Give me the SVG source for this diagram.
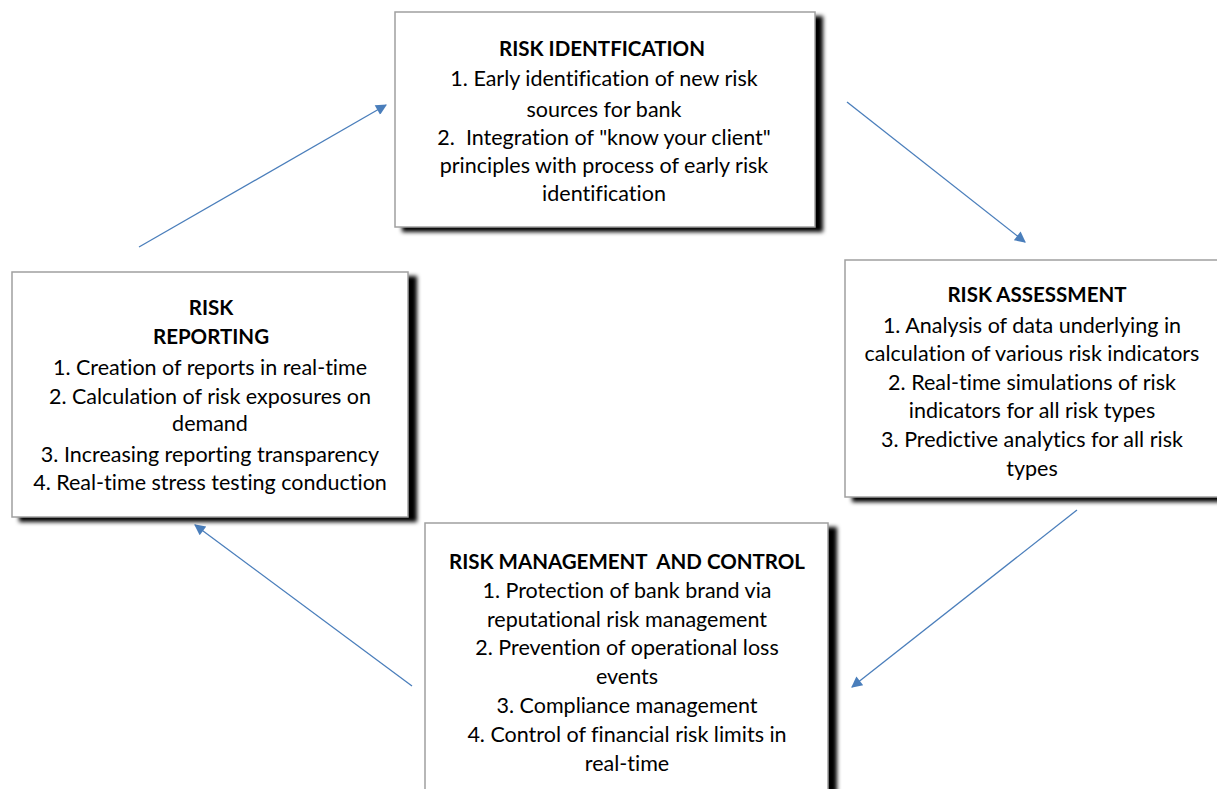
<svg xmlns="http://www.w3.org/2000/svg" width="1217" height="789" viewBox="0 0 1217 789">
<style>
.box{fill:#fff;stroke:#a0a0a0;stroke-width:1.5}
.sh{fill:#000;filter:url(#blur)}
.t{font-family:Lato,"Liberation Sans",sans-serif;font-size:21.5px;fill:#000;text-anchor:middle;font-variant-ligatures:none;white-space:pre}
.b{font-weight:bold;font-size:20.5px}
.c{stroke:#4a7ebb;stroke-width:1.3;fill:none;marker-end:url(#ah)}
</style>
<defs>
<filter id="blur" x="-10%" y="-10%" width="120%" height="120%"><feGaussianBlur stdDeviation="2"/></filter>
<marker id="ah" viewBox="0 0 10 10" refX="9" refY="5" markerWidth="13" markerHeight="11" markerUnits="userSpaceOnUse" orient="auto"><path d="M0,0 L10,5 L0,10 Z" fill="#4a7ebb"/></marker>
</defs>
<rect width="1217" height="789" fill="#fff"/>
<g id="connectors">
<line class="c" x1="139" y1="247" x2="386" y2="105"/>
<line class="c" x1="847" y1="102" x2="1025" y2="242"/>
<line class="c" x1="1077" y1="510" x2="852" y2="687"/>
<line class="c" x1="412" y1="686" x2="195" y2="525"/>
</g>
<g id="risk-identification">
<rect class="sh" x="402" y="16" width="421" height="216"/>
<rect class="box" x="395" y="12" width="420" height="215"/>
<text class="t b" x="602" y="56">RISK IDENTFICATION</text>
<text class="t" x="604" y="86">1. Early identification of new risk</text>
<text class="t" x="604" y="117">sources for bank</text>
<text class="t" x="604" y="145">2.  Integration of "know your client"</text>
<text class="t" x="604" y="173">principles with process of early risk</text>
<text class="t" x="604" y="201">identification</text>
</g>
<g id="risk-reporting">
<rect class="sh" x="19" y="276" width="398" height="246"/>
<rect class="box" x="12" y="272" width="396" height="245"/>
<text class="t b" x="211" y="315">RISK</text>
<text class="t b" x="211" y="344">REPORTING</text>
<text class="t" x="210" y="375">1. Creation of reports in real-time</text>
<text class="t" x="210" y="404">2. Calculation of risk exposures on</text>
<text class="t" x="210" y="431">demand</text>
<text class="t" x="210" y="462">3. Increasing reporting transparency</text>
<text class="t" x="210" y="490">4. Real-time stress testing conduction</text>
</g>
<g id="risk-assessment">
<rect class="sh" x="852" y="264" width="380" height="238"/>
<rect class="box" x="845" y="260" width="380" height="237"/>
<text class="t b" x="1037" y="302">RISK ASSESSMENT</text>
<text class="t" x="1032" y="333">1. Analysis of data underlying in</text>
<text class="t" x="1032" y="361">calculation of various risk indicators</text>
<text class="t" x="1032" y="390">2. Real-time simulations of risk</text>
<text class="t" x="1032" y="418">indicators for all risk types</text>
<text class="t" x="1032" y="447">3. Predictive analytics for all risk</text>
<text class="t" x="1032" y="476">types</text>
</g>
<g id="risk-management">
<rect class="sh" x="432" y="527" width="405" height="280"/>
<rect class="box" x="425" y="523" width="403" height="280"/>
<text class="t b" x="627" y="569">RISK MANAGEMENT  AND CONTROL</text>
<text class="t" x="627" y="598">1. Protection of bank brand via</text>
<text class="t" x="627" y="627">reputational risk management</text>
<text class="t" x="627" y="655">2. Prevention of operational loss</text>
<text class="t" x="627" y="684">events</text>
<text class="t" x="627" y="713">3. Compliance management</text>
<text class="t" x="627" y="742">4. Control of financial risk limits in</text>
<text class="t" x="627" y="771">real-time</text>
</g>
</svg>
